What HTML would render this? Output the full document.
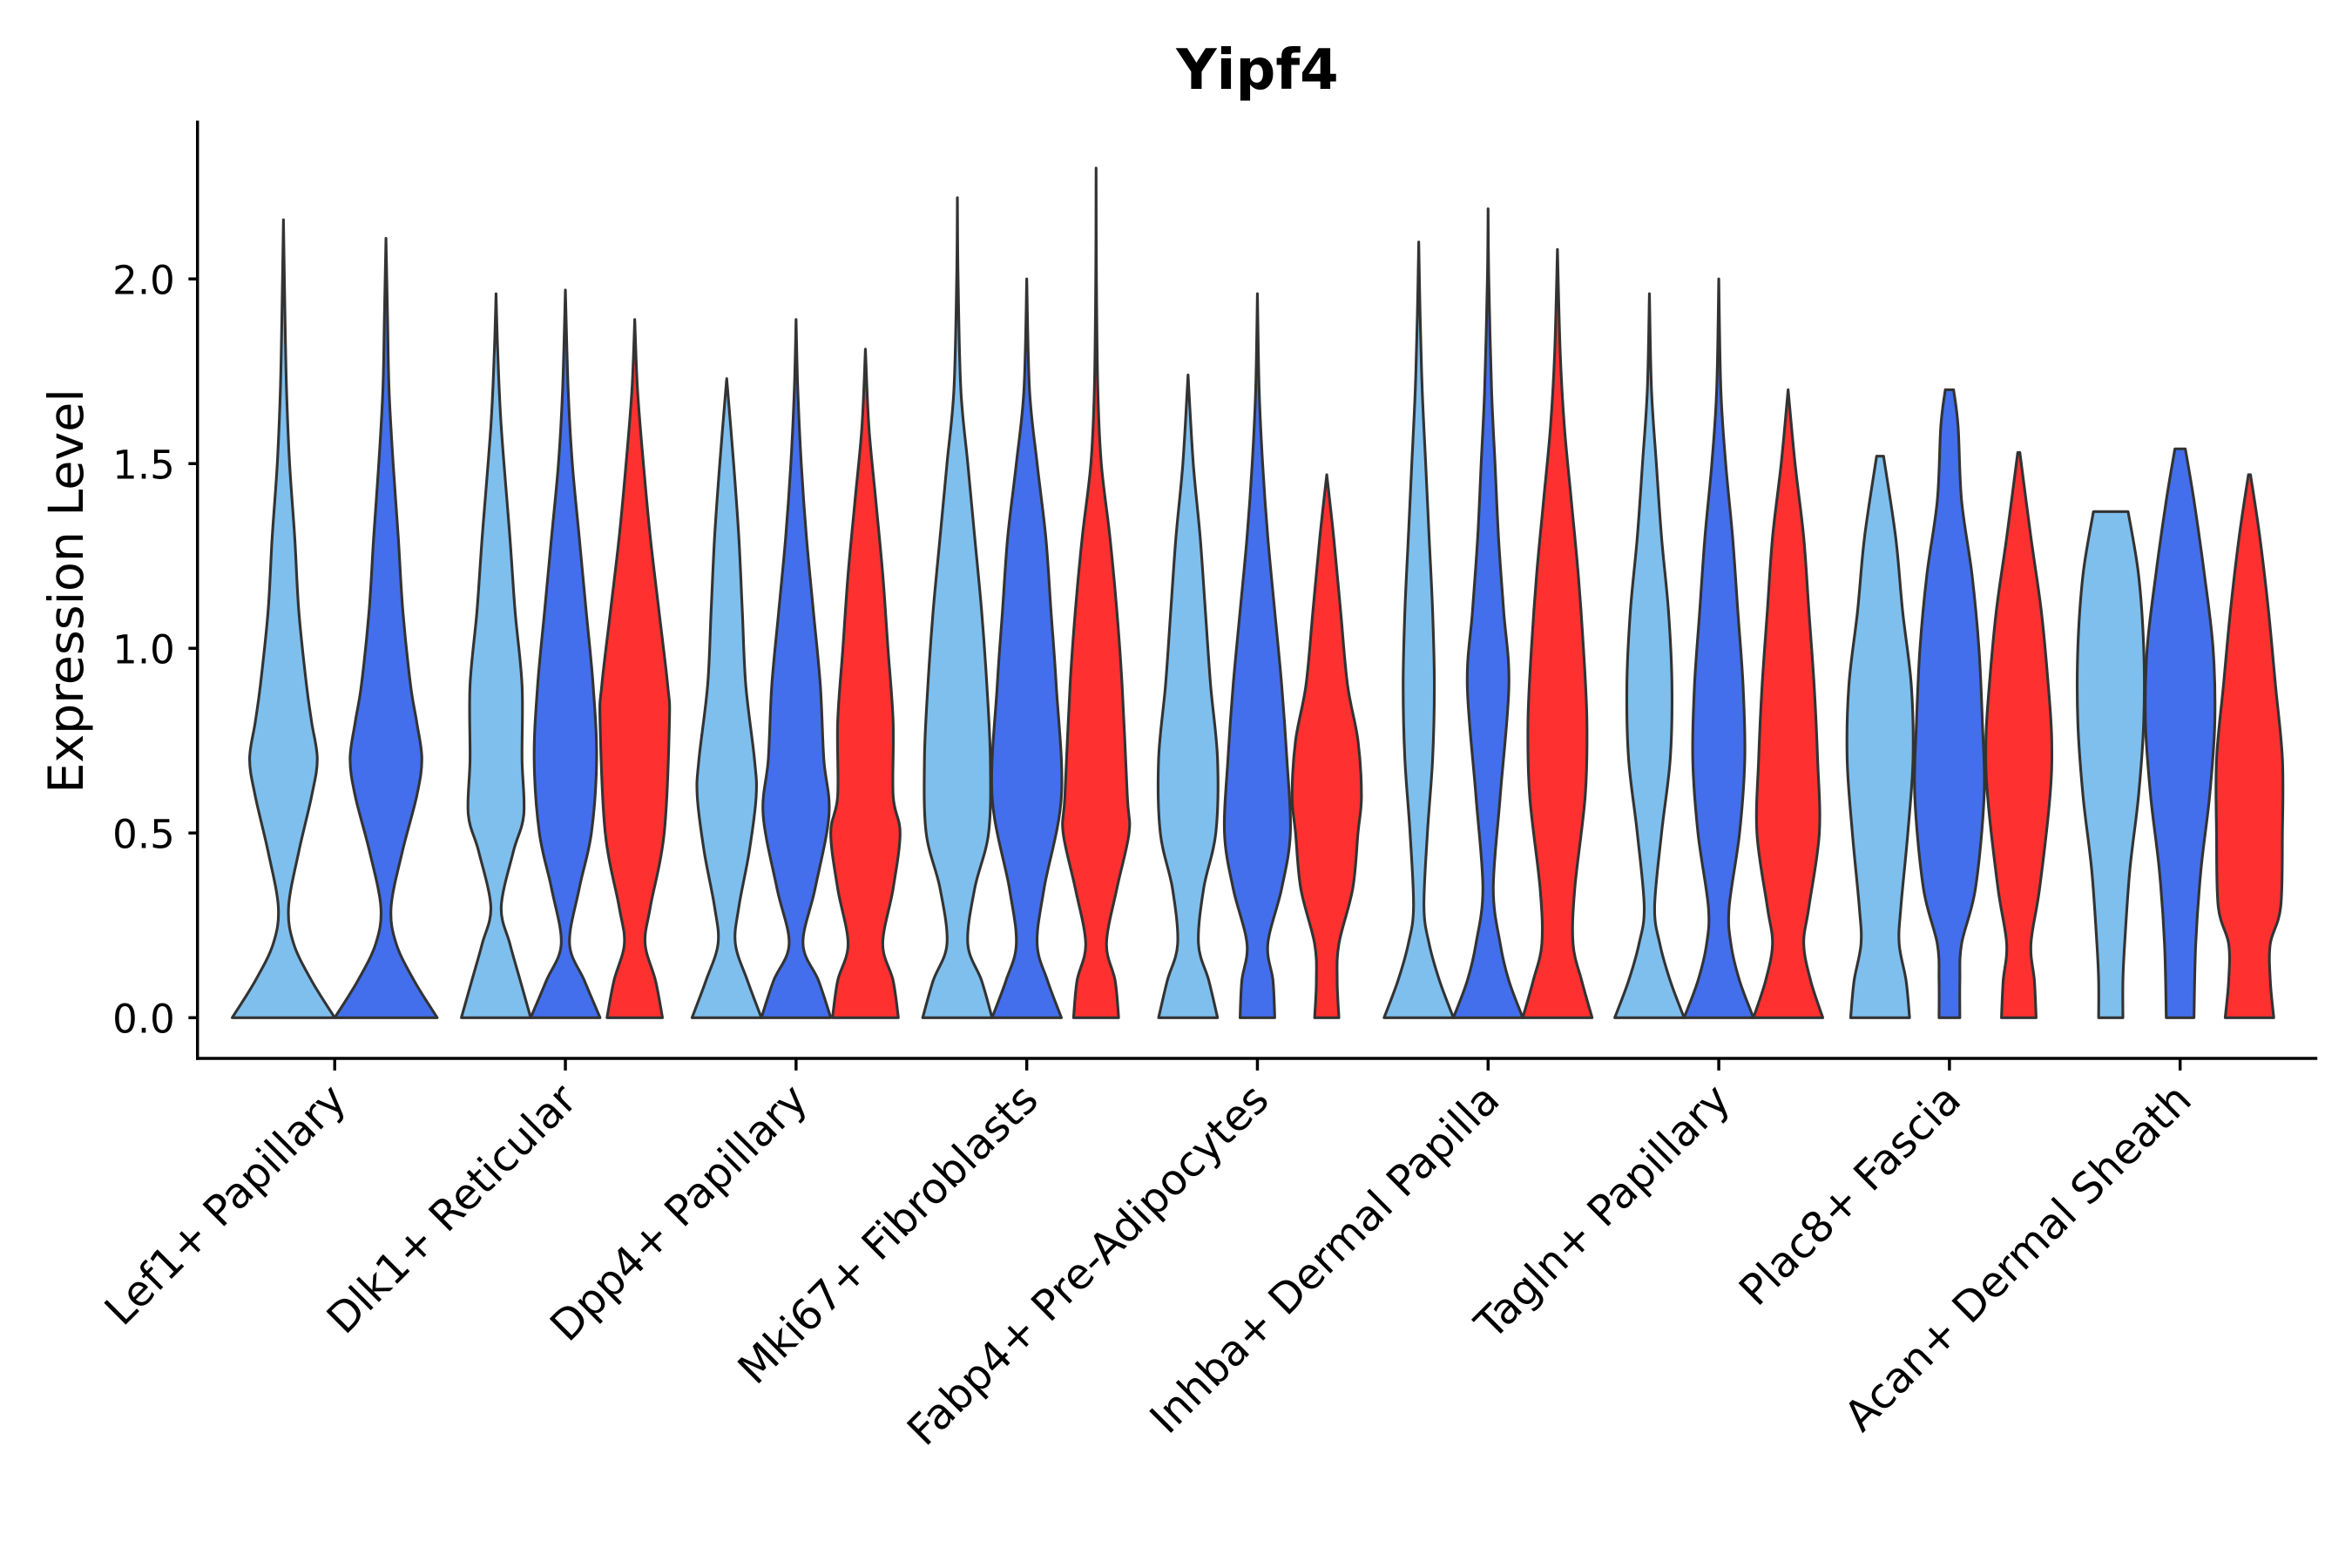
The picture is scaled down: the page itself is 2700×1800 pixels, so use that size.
<!DOCTYPE html>
<html><head><meta charset="utf-8"><style>
html,body{margin:0;padding:0;background:#fff;}
svg{display:block;}
text{font-family:"DejaVu Sans","Liberation Sans",sans-serif;}
</style></head><body>
<svg id="chart" width="2700" height="1800" viewBox="0 0 1560 1040" xmlns="http://www.w3.org/2000/svg">
<rect x="0" y="0" width="1560" height="1040" fill="#fff"/>
<text x="834" y="59" text-anchor="middle" font-size="37" font-weight="bold">Yipf4</text>
<text transform="translate(55,392) rotate(-90)" text-anchor="middle" font-size="32">Expression Level</text>
<g id="violins"></g>
<g id="axes"></g>
</svg>
<script>
const categories = ["Lef1+ Papillary","Dlk1+ Reticular","Dpp4+ Papillary","Mki67+ Fibroblasts","Fabp4+ Pre-Adipocytes","Inhba+ Dermal Papilla","Tagln+ Papillary","Plac8+ Fascia","Acan+ Dermal Sheath"];
const groups = ["light","blue","red"];
const yTicks = [0,0.5,1.0,1.5,2.0];
const yTickLabels = ["0.0","0.5","1.0","1.5","2.0"];
const maxValues = [
 [2.16,2.11,null],[1.96,1.97,1.89],[1.73,1.89,1.81],[2.22,2.0,2.30],[1.74,1.96,1.47],
 [2.10,2.19,2.08],[1.96,2.0,1.70],[1.52,1.70,1.53],[1.37,1.54,1.47]];
const topWidths = [
 [0,0,0],[0,0,0],[0,0,0],[0,0,0],[0,0,0],[0,0,0],[0,0,0],[0.1,0.12,0.03],[0.5,0.15,0.03]];
const profiles = [
 [[[0,1],[0.1,0.55],[0.2,0.2],[0.3,0.1],[0.45,0.3],[0.6,0.55],[0.7,0.66],[0.8,0.55],[0.9,0.45],[1.1,0.3],[1.3,0.22],[1.5,0.12],[1.7,0.06],[1.9,0.03]],
  [[0,1],[0.1,0.55],[0.2,0.2],[0.3,0.1],[0.45,0.32],[0.6,0.6],[0.7,0.7],[0.8,0.6],[0.9,0.48],[1.1,0.33],[1.3,0.24],[1.5,0.14],[1.7,0.06],[1.9,0.03]],
  null],
 [[[0,1],[0.1,0.7],[0.2,0.4],[0.3,0.15],[0.45,0.5],[0.55,0.8],[0.7,0.75],[0.9,0.75],[1.1,0.55],[1.3,0.4],[1.6,0.15],[1.8,0.05]],
  [[0,1],[0.1,0.55],[0.2,0.12],[0.35,0.4],[0.5,0.75],[0.7,0.9],[0.9,0.8],[1.1,0.6],[1.3,0.4],[1.5,0.2],[1.7,0.08]],
  [[0,0.8],[0.1,0.6],[0.2,0.3],[0.3,0.45],[0.5,0.85],[0.8,1],[0.9,0.95],[1.1,0.7],[1.3,0.45],[1.5,0.25],[1.7,0.08]]],
 [[[0,1],[0.1,0.6],[0.2,0.25],[0.3,0.35],[0.45,0.65],[0.6,0.85],[0.7,0.8],[0.9,0.55],[1.1,0.45],[1.3,0.35],[1.5,0.2]],
  [[0,1],[0.1,0.65],[0.2,0.2],[0.35,0.55],[0.55,0.95],[0.7,0.8],[0.9,0.7],[1.1,0.5],[1.3,0.3],[1.5,0.15],[1.7,0.05]],
  [[0,0.95],[0.1,0.8],[0.2,0.5],[0.35,0.8],[0.5,1],[0.6,0.8],[0.8,0.8],[1.0,0.65],[1.2,0.5],[1.4,0.3],[1.6,0.1]]],
 [[[0,1],[0.1,0.7],[0.2,0.3],[0.35,0.5],[0.5,0.9],[0.7,0.95],[0.9,0.85],[1.1,0.7],[1.3,0.5],[1.5,0.3],[1.7,0.1],[2.0,0.02]],
  [[0,1],[0.1,0.6],[0.2,0.3],[0.35,0.5],[0.6,1],[0.9,0.85],[1.1,0.7],[1.3,0.55],[1.5,0.3],[1.7,0.08]],
  [[0,0.65],[0.1,0.55],[0.2,0.3],[0.35,0.6],[0.5,0.95],[0.6,0.9],[0.9,0.75],[1.1,0.6],[1.3,0.4],[1.5,0.15],[1.7,0.05],[2.0,0.01]]],
 [[[0,0.85],[0.1,0.6],[0.2,0.3],[0.35,0.45],[0.5,0.8],[0.7,0.85],[0.9,0.65],[1.1,0.5],[1.3,0.35],[1.5,0.15]],
  [[0,0.5],[0.1,0.45],[0.2,0.3],[0.35,0.7],[0.5,0.95],[0.7,0.85],[0.9,0.7],[1.1,0.5],[1.3,0.3],[1.5,0.15],[1.7,0.05]],
  [[0,0.35],[0.1,0.3],[0.2,0.35],[0.35,0.75],[0.5,0.9],[0.6,1],[0.75,0.9],[0.9,0.6],[1.1,0.4],[1.3,0.2]]],
 [[[0,1],[0.1,0.6],[0.2,0.3],[0.3,0.15],[0.5,0.25],[0.7,0.4],[0.9,0.45],[1.1,0.4],[1.3,0.3],[1.5,0.2],[1.7,0.1],[1.9,0.04]],
  [[0,1],[0.1,0.6],[0.2,0.35],[0.35,0.15],[0.6,0.35],[0.9,0.6],[1.1,0.45],[1.3,0.3],[1.5,0.2],[1.7,0.1],[2.0,0.02]],
  [[0,1],[0.1,0.7],[0.2,0.45],[0.35,0.5],[0.6,0.8],[0.8,0.85],[1.0,0.75],[1.2,0.6],[1.4,0.4],[1.6,0.2],[1.8,0.08]]],
 [[[0,1],[0.1,0.6],[0.2,0.3],[0.3,0.15],[0.5,0.35],[0.7,0.6],[0.9,0.65],[1.1,0.55],[1.3,0.35],[1.5,0.2],[1.7,0.06]],
  [[0,1],[0.1,0.6],[0.2,0.35],[0.3,0.3],[0.5,0.6],[0.7,0.75],[0.9,0.7],[1.1,0.55],[1.3,0.4],[1.5,0.2],[1.7,0.06]],
  [[0,1],[0.1,0.65],[0.2,0.45],[0.3,0.6],[0.5,0.9],[0.7,0.85],[0.9,0.75],[1.1,0.6],[1.3,0.45],[1.5,0.2]]],
 [[[0,0.85],[0.1,0.75],[0.2,0.55],[0.3,0.6],[0.5,0.8],[0.7,0.95],[0.9,0.9],[1.1,0.65],[1.3,0.45]],
  [[0,0.3],[0.1,0.3],[0.2,0.35],[0.35,0.75],[0.6,1],[0.8,0.95],[1.0,0.85],[1.2,0.65],[1.4,0.35],[1.6,0.25]],
  [[0,0.5],[0.1,0.45],[0.2,0.35],[0.35,0.6],[0.6,0.9],[0.75,0.95],[0.9,0.85],[1.1,0.65],[1.3,0.35]]],
 [[[0,0.35],[0.1,0.35],[0.2,0.4],[0.4,0.55],[0.6,0.8],[0.8,0.95],[1.0,0.95],[1.2,0.8]],
  [[0,0.4],[0.2,0.45],[0.4,0.6],[0.6,0.85],[0.8,1],[1.0,0.95],[1.2,0.7],[1.4,0.4]],
  [[0,0.7],[0.1,0.6],[0.2,0.6],[0.3,0.9],[0.5,0.95],[0.7,0.95],[0.9,0.75],[1.1,0.55],[1.3,0.3]]]];

const colors = {light:"#7fbfed",blue:"#436fec",red:"#ff3030"};
const NS = "http://www.w3.org/2000/svg";
const X0 = 131, X1 = 1537, YB = 702, YT = 80;
function yScale(v){ return 675 - v*245; }
function xCenter(i){ return 222 + i*153; }

function smoothPath(pts){
  let d = "M" + pts[0][0].toFixed(2) + "," + pts[0][1].toFixed(2);
  for (let i=0;i<pts.length-1;i++){
    const p0=pts[Math.max(0,i-1)], p1=pts[i], p2=pts[i+1], p3=pts[Math.min(pts.length-1,i+2)];
    const c1x=p1[0]+(p2[0]-p0[0])/6, c1y=p1[1]+(p2[1]-p0[1])/6;
    const c2x=p2[0]-(p3[0]-p1[0])/6, c2y=p2[1]-(p3[1]-p1[1])/6;
    d += " C"+c1x.toFixed(2)+","+c1y.toFixed(2)+" "+c2x.toFixed(2)+","+c2y.toFixed(2)+" "+p2[0].toFixed(2)+","+p2[1].toFixed(2);
  }
  return d;
}

const vg = document.getElementById("violins");
categories.forEach((cat,ci)=>{
  const present = groups.map((g,gi)=>profiles[ci][gi]?gi:-1).filter(v=>v>=0);
  const n = present.length;
  const halfMax = n===3 ? 23 : 34;
  const offs = n===3 ? [-46,0,46] : [-34,34];
  present.forEach((gi,k)=>{
    const cx = xCenter(ci) + offs[k];
    const prof = profiles[ci][gi].filter(p=>p[0] < maxValues[ci][gi]);
    const maxV = maxValues[ci][gi], tw = topWidths[ci][gi];
    const right = prof.map(p=>[cx + p[1]*halfMax, yScale(p[0])]);
    right.push([cx + tw*halfMax, yScale(maxV)]);
    const rightD = smoothPath(right);
    const left = right.slice().reverse().map(p=>[2*cx - p[0], p[1]]);
    const leftD = smoothPath(left).replace(/^M/," L");
    const path = document.createElementNS(NS,"path");
    path.setAttribute("d", rightD + leftD + " Z");
    path.setAttribute("fill", colors[groups[gi]]);
    path.setAttribute("stroke", "#333");
    path.setAttribute("stroke-width", "1.8");
    path.setAttribute("stroke-linejoin", "round");
    
    
    vg.appendChild(path);
  });
});

const ag = document.getElementById("axes");
function line(x1,y1,x2,y2,name){
  const l = document.createElementNS(NS,"line");
  l.setAttribute("x1",x1); l.setAttribute("y1",y1); l.setAttribute("x2",x2); l.setAttribute("y2",y2);
  l.setAttribute("stroke","#000"); l.setAttribute("stroke-width","2");
  
  
  ag.appendChild(l);
}
line(X0,YT,X0,YB+1,"y-axis-line");
line(X0-1,YB,X1,YB,"x-axis-line");
yTicks.forEach((v,i)=>{
  const y = yScale(v);
  line(X0-6,y,X0,y,"y-tick");
  const t = document.createElementNS(NS,"text");
  t.setAttribute("x",X0-15); t.setAttribute("y",y+10);
  t.setAttribute("text-anchor","end"); t.setAttribute("font-size","26");
  t.textContent = yTickLabels[i];
  
  
  ag.appendChild(t);
});
categories.forEach((c,i)=>{
  const x = xCenter(i);
  line(x,YB,x,YB+8,"x-tick");
  const t = document.createElementNS(NS,"text");
  t.setAttribute("transform","translate("+(x+9)+","+(YB+29)+") rotate(-45)");
  t.setAttribute("text-anchor","end"); t.setAttribute("font-size","28");
  t.textContent = c;
  
  
  ag.appendChild(t);
});
</script>
</body></html>
